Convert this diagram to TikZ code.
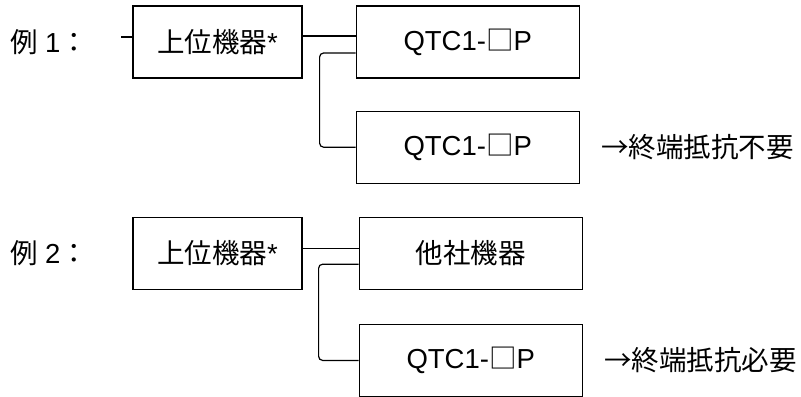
\documentclass[tikz,border=0pt]{standalone}
\usepackage{fontspec}
\setmainfont{Liberation Sans}
\newfontfamily\jpfont{Noto Sans CJK JP}
\newcommand{\jp}[1]{{\jpfont #1}}
\usetikzlibrary{positioning}
\tikzset{%
  % boxes
  dev/.style={draw, line width=0.6pt, minimum height=36pt, inner sep=0pt,
    font=\fontsize{13.75}{15}\selectfont},
  host/.style={dev, minimum width=84.5pt},
  slave/.style={dev, minimum width=111.5pt},
  % plain texts
  tag/.style={inner sep=0pt, font=\fontsize{13.75}{15}\selectfont},
  % wiring
  bus/.style={line width=0.6pt},
  branch/.style={bus, rounded corners=2pt},
}

\begin{document}
\begin{tikzpicture}[x=0.5pt, y=-0.5pt]
  \useasboundingbox (0,0) rectangle (801,396);

  % Example 1
  \node[host] (hostA) at (217.5,42) {\jp{上位機器}*};
  \node[slave, right=26.5pt of hostA] (qtcA) {QTC1-\jp{□}P};
  \node[slave, below=16pt of qtcA] (qtcB) {QTC1-\jp{□}P};
  \node[tag, left=22pt of hostA] (exA) {\jp{例} 1\jp{：}};
  \node[tag, right=10.5pt of qtcB] (noteA) {\jp{→終端抵抗不要}};

  \coordinate (stubA) at ([xshift=-5.5pt, yshift=2.5pt]hostA.west);
  \draw[bus] (stubA) -- (stubA -| hostA.west);
  \draw[bus] ([yshift=3pt]hostA.east) -- ([yshift=3pt]qtcA.west);
  \draw[branch] ([yshift=-5.5pt]qtcA.west) -- ++(-18pt,0) |- (qtcB.west);

  % Example 2
  \node[host, below=69pt of hostA] (hostB) {\jp{上位機器}*};
  \node[slave, right=28pt of hostB] (otherB) {\jp{他社機器}};
  \node[slave, below=17pt of otherB] (qtcC) {QTC1-\jp{□}P};
  \node[tag, left=22pt of hostB] (exB) {\jp{例} 2\jp{：}};
  \node[tag, right=10.5pt of qtcC] (noteB) {\jp{→終端抵抗必要}};

  \draw[bus] ([yshift=2.5pt]hostB.east) -- ([yshift=2.5pt]otherB.west);
  \draw[branch] ([yshift=-5.5pt]otherB.west) -- ++(-20pt,0) |- (qtcC.west);

\end{tikzpicture}
\end{document}
